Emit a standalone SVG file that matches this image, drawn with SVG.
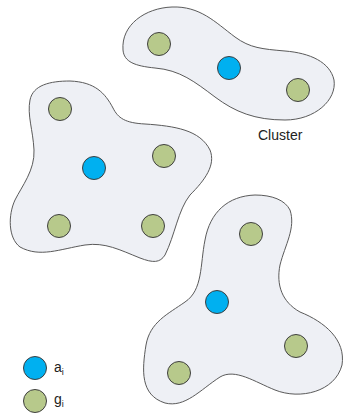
<svg xmlns="http://www.w3.org/2000/svg" width="343" height="413" viewBox="0 0 343 413">
  <style>
    .blob { fill: #eef0f5; stroke: #5a5a5a; stroke-width: 1; }
    .a { fill: #00b0f0; stroke: #3f3f3f; stroke-width: 1; }
    .g { fill: #b7c98b; stroke: #3f3f3f; stroke-width: 1; }
    .lbl { font-family: "Liberation Sans", Arial, sans-serif; font-size: 14px; fill: #222; }
    .sub { font-size: 9px; }
  </style>
  <rect width="343" height="413" fill="#ffffff"/>

  <!-- upper-right cluster -->
  <g id="cluster-top">
    <path class="blob" d="M123,50 C121,25 145,8 172,7 C200,6 215,22 235,37 C250,48 262,49 285,51 C310,53 330,62 334,80 C337,100 315,120 285,120 C255,120 235,112 215,97 C195,82 180,70 155,68 C135,66 124,62 123,50 Z"/>
    <circle class="g" cx="159" cy="44" r="11.5"/>
    <circle class="a" cx="229" cy="68" r="11.5"/>
    <circle class="g" cx="298" cy="90" r="11.5"/>
    <text class="lbl" x="258" y="140">Cluster</text>
  </g>

  <!-- left cluster -->
  <g id="cluster-left">
    <path class="blob" d="M30,100 C33,85 50,81 70,81 C95,82 105,93 113,108 C118,118 125,123 145,124 C175,126 200,130 210,150 C216,165 205,180 190,195 C178,210 175,235 165,255 C160,263 153,263 140,258 C120,250 105,242 85,245 C60,249 40,258 20,247 C8,238 8,215 15,200 C22,186 35,170 34,150 C33,130 27,115 30,100 Z"/>
    <circle class="g" cx="60" cy="109" r="11.5"/>
    <circle class="a" cx="94" cy="168" r="11.5"/>
    <circle class="g" cx="164" cy="156" r="11.5"/>
    <circle class="g" cx="59" cy="226" r="11.5"/>
    <circle class="g" cx="153" cy="226" r="11.5"/>
  </g>

  <!-- lower-right cluster -->
  <g id="cluster-bottom">
    <path class="blob" d="M255,195 C228,196 210,212 205,240 C200,265 203,290 185,302 C168,314 150,322 146,345 C142,370 140,395 165,403 C185,408 200,390 220,377 C235,368 255,382 275,390 C300,400 335,392 342,365 C346,340 325,322 300,312 C282,302 276,285 280,265 C285,245 296,228 290,210 C285,200 272,195 255,195 Z"/>
    <circle class="g" cx="251" cy="234" r="11.5"/>
    <circle class="a" cx="217" cy="302" r="11.5"/>
    <circle class="g" cx="296" cy="346" r="11.5"/>
    <circle class="g" cx="179" cy="373" r="11.5"/>
  </g>

  <!-- legend -->
  <g id="legend-a">
    <circle class="a" cx="35" cy="368" r="11.5"/>
    <text class="lbl" x="54" y="372">a<tspan class="sub" dy="3">i</tspan></text>
  </g>
  <g id="legend-g">
    <circle class="g" cx="35" cy="401" r="11.5"/>
    <text class="lbl" x="54" y="404">g<tspan class="sub" dy="3">i</tspan></text>
  </g>

  <g id="connectors"/>
</svg>
